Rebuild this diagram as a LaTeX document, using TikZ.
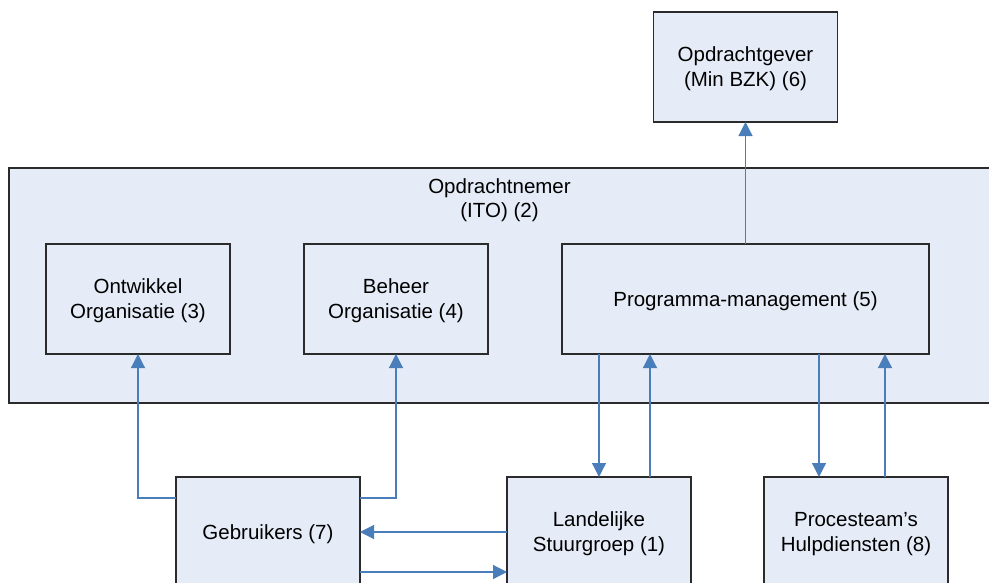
\documentclass[tikz,border=0pt]{standalone}
\usepackage{fontspec}
\setmainfont{Liberation Sans}
\usetikzlibrary{arrows.meta}
\definecolor{boxfill}{HTML}{E6ECF7}
\definecolor{boxline}{HTML}{2B2B2B}
\definecolor{linkblue}{HTML}{4A7EBB}
\tikzset{
  unit/.style={draw=boxline, fill=boxfill, line width=1.2pt, rectangle,
    inner sep=0pt, outer sep=0pt, minimum width=184pt, minimum height=110pt,
    align=center, text depth=0pt, font=\fontsize{20.5}{25}\selectfont},
  group/.style={draw=boxline, fill=boxfill, line width=1.2pt, rectangle,
    inner sep=0pt, outer sep=0pt, anchor=north west},
  caption/.style={align=center, inner sep=0pt, font=\fontsize{20.5}{24.5}\selectfont},
  link/.style={draw=linkblue, line width=1.2pt, -{Triangle[length=14pt,width=14pt]}}
}
\begin{document}
\begin{tikzpicture}[x=1pt, y=-1pt]
\useasboundingbox (0,0) rectangle (989,582);
\clip (0,0) rectangle (989,582);

% contractor group (runs past the right edge)
\node[group, minimum width=1000pt, minimum height=235pt] (opdn) at (9,168) {};
\node[caption, anchor=north] (opdnlbl) at (499.5,178) {Opdrachtnemer\\(ITO) (2)};

% units
\node[unit] (opg) at (745.5,67) {Opdrachtgever\\(Min BZK) (6)};
\node[unit] (ont) at (138,299) {Ontwikkel\\Organisatie (3)};
\node[unit] (beh) at (396,299) {Beheer\\Organisatie (4)};
\node[unit, minimum width=367pt] (pm) at (745.5,299) {Programma-management (5)};
\node[unit] (geb) at (268,532) {Gebruikers (7)};
\node[unit] (lan) at (599,532) {Landelijke\\Stuurgroep (1)};
\node[unit] (pro) at (856,532) {Procesteam’s\\Hulpdiensten (8)};

% connectors
\draw[link] (pm.north) -- (opg.south);
\draw[link] ([yshift=-21pt]geb.north west) -| (ont.south);
\draw[link] ([yshift=-21pt]geb.north east) -| (beh.south);
\draw[link] (pm.south -| lan.north) -- (lan.north);
\draw[link] ([xshift=51pt]lan.north) -- ([xshift=51pt]lan.north |- pm.south);
\draw[link] ([xshift=-37pt]pro.north |- pm.south) -- ([xshift=-37pt]pro.north);
\draw[link] ([xshift=29pt]pro.north) -- ([xshift=29pt]pro.north |- pm.south);
\draw[link] (lan.west) -- (lan.west -| geb.east);
\draw[link] ([yshift=-40pt]geb.east) -- ([yshift=-40pt]geb.east -| lan.west);
\end{tikzpicture}
\end{document}
